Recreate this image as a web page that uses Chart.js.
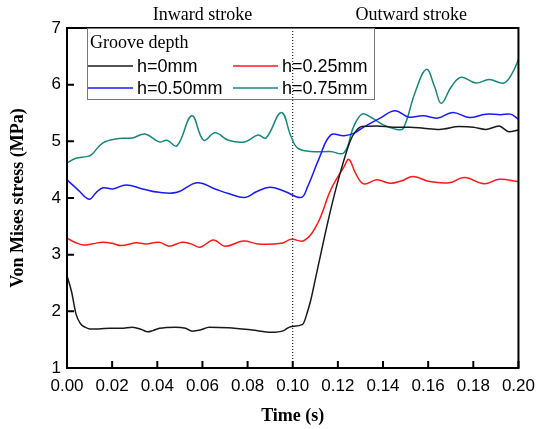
<!DOCTYPE html>
<html>
<head>
<meta charset="utf-8">
<script src="https://cdn.jsdelivr.net/npm/chart.js@4/dist/chart.umd.min.js"></script>
<style>
  html, body { margin: 0; padding: 0; background: #fff; }
  #wrap { width: 543px; height: 429px; }
</style>
</head>
<body>
<div id="wrap"><canvas id="chart" width="543" height="429"></canvas></div>
<script>
// Series: time (s) and von Mises stress (MPa)
const t0 = [0, 0.002, 0.004, 0.006, 0.008, 0.010, 0.014, 0.019, 0.024, 0.029, 0.033, 0.0357, 0.038, 0.041, 0.048, 0.0525, 0.0555, 0.059, 0.063, 0.0715, 0.082, 0.0905, 0.096, 0.099, 0.1044, 0.1066, 0.108, 0.111, 0.1161, 0.1197, 0.1256, 0.128, 0.1307, 0.1373, 0.1446, 0.152, 0.158, 0.165, 0.1738, 0.18, 0.1855, 0.1914, 0.1958, 0.2];
const v0 = [2.63, 2.35, 1.95, 1.78, 1.72, 1.69, 1.69, 1.70, 1.70, 1.72, 1.68, 1.64, 1.66, 1.70, 1.72, 1.70, 1.65, 1.67, 1.72, 1.71, 1.67, 1.63, 1.66, 1.73, 1.77, 2.0, 2.2, 2.75, 3.67, 4.25, 5.02, 5.18, 5.26, 5.27, 5.25, 5.25, 5.23, 5.21, 5.26, 5.25, 5.21, 5.27, 5.17, 5.20];

const t25 = [0, 0.0035, 0.0072, 0.011, 0.016, 0.020, 0.024, 0.0306, 0.035, 0.0408, 0.0452, 0.051, 0.055, 0.059, 0.0649, 0.07, 0.0781, 0.0846, 0.0949, 0.0993, 0.1051, 0.111, 0.1168, 0.1227, 0.1249, 0.1278, 0.1314, 0.1373, 0.1431, 0.148, 0.1534, 0.1607, 0.1694, 0.176, 0.1848, 0.1914, 0.2];
const v25 = [3.29, 3.22, 3.17, 3.19, 3.22, 3.20, 3.16, 3.21, 3.19, 3.22, 3.15, 3.22, 3.19, 3.13, 3.26, 3.15, 3.24, 3.19, 3.20, 3.27, 3.25, 3.55, 4.14, 4.55, 4.68, 4.44, 4.25, 4.32, 4.26, 4.30, 4.38, 4.29, 4.27, 4.36, 4.25, 4.33, 4.29];

const t50 = [0, 0.005, 0.0098, 0.013, 0.016, 0.0203, 0.0262, 0.0335, 0.0408, 0.0488, 0.0576, 0.0656, 0.0715, 0.0788, 0.0839, 0.0898, 0.0963, 0.1037, 0.1066, 0.1117, 0.1168, 0.1227, 0.127, 0.1314, 0.1387, 0.1453, 0.1512, 0.1578, 0.1643, 0.1709, 0.1782, 0.1855, 0.1921, 0.1965, 0.2];
const v50 = [4.32, 4.14, 3.98, 4.10, 4.18, 4.16, 4.23, 4.16, 4.10, 4.10, 4.27, 4.16, 4.08, 4.01, 4.11, 4.19, 4.12, 4.01, 4.20, 4.70, 5.11, 5.10, 5.14, 5.25, 5.41, 5.54, 5.43, 5.45, 5.41, 5.51, 5.42, 5.48, 5.47, 5.48, 5.39];

const t75 = [0, 0.004, 0.0086, 0.0108, 0.0158, 0.023, 0.029, 0.0346, 0.0408, 0.0443, 0.0487, 0.0553, 0.0605, 0.0656, 0.0715, 0.0788, 0.0846, 0.0882, 0.0949, 0.0993, 0.1022, 0.108, 0.1167, 0.1227, 0.127, 0.1307, 0.1344, 0.1402, 0.146, 0.149, 0.1541, 0.1592, 0.1629, 0.1658, 0.1702, 0.1746, 0.1811, 0.187, 0.1936, 0.1972, 0.2];
const v75 = [4.62, 4.70, 4.73, 4.76, 4.97, 5.05, 5.06, 5.13, 4.99, 5.02, 4.92, 5.45, 5.02, 5.15, 5.02, 4.99, 5.11, 5.06, 5.51, 5.08, 4.88, 4.82, 4.82, 4.80, 5.26, 5.48, 5.43, 5.29, 5.21, 5.23, 5.85, 6.27, 5.96, 5.67, 5.96, 6.13, 6.03, 6.09, 6.03, 6.20, 6.44];

const seriesLabels = ['h=0mm', 'h=0.25mm', 'h=0.50mm', 'h=0.75mm'];
const seriesColors = ['#1a1a1a', '#ff1a1a', '#1a1aff', '#17877d'];
const legendTitle = 'Groove depth';
const strokeLabels = ['Inward stroke', 'Outward stroke'];
const strokeLabelTimes = [0.06, 0.1525];
const dividerTime = 0.1;

function pts(t, v) { return t.map((x, i) => ({ x: x, y: v[i] })); }

const lines = [[t0, v0], [t25, v25], [t50, v50], [t75, v75]];
const datasets = lines.map((s, i) => ({
  label: seriesLabels[i],
  data: pts(s[0], s[1]),
  borderColor: seriesColors[i],
  borderWidth: 1.5,
  pointRadius: 0,
  // black has sharp corners, keep it monotone; the rest are wavy
  cubicInterpolationMode: i === 0 ? 'monotone' : 'default',
  tension: 0.4,
  fill: false
}));
// dotted divider between the two strokes
datasets.push({
  label: 'divider',
  data: [{ x: dividerTime, y: 1 }, { x: dividerTime, y: 7 }],
  borderColor: '#000',
  borderWidth: 1,
  borderDash: [1, 2],
  pointRadius: 0,
  tension: 0,
  fill: false
});

// frame, inward ticks, stroke labels and the boxed legend
const extras = {
  id: 'extras',
  afterDraw(chart) {
    const ctx = chart.ctx, a = chart.chartArea;
    const xs = chart.scales.x, ys = chart.scales.y;
    ctx.save();
    ctx.strokeStyle = '#000';
    ctx.lineWidth = 2;
    ctx.strokeRect(a.left, a.top, a.right - a.left, a.bottom - a.top);
    ctx.beginPath();
    xs.ticks.forEach(tk => {
      const px = xs.getPixelForValue(tk.value);
      ctx.moveTo(px, a.bottom); ctx.lineTo(px, a.bottom - 7);
    });
    ys.ticks.forEach(tk => {
      const py = ys.getPixelForValue(tk.value);
      ctx.moveTo(a.left, py); ctx.lineTo(a.left + 7, py);
    });
    ctx.stroke();

    ctx.fillStyle = '#000';
    ctx.font = '18px "Liberation Serif"';
    ctx.textAlign = 'center';
    ctx.textBaseline = 'middle';
    strokeLabels.forEach((s, i) => ctx.fillText(s, xs.getPixelForValue(strokeLabelTimes[i]), 15));

    // legend
    ctx.strokeStyle = '#777';
    ctx.lineWidth = 1;
    ctx.strokeRect(87.5, 28.5, 287, 71);
    ctx.textAlign = 'left';
    ctx.font = '18px "Liberation Serif"';
    ctx.fillText(legendTitle, 90, 43);
    ctx.font = '18px "Liberation Sans"';
    const colX = [88, 233], rowY = [66, 88];
    seriesLabels.forEach((lab, i) => {
      const cx = colX[i % 2], cy = rowY[Math.floor(i / 2)];
      ctx.strokeStyle = seriesColors[i];
      ctx.lineWidth = 1.5;
      ctx.beginPath(); ctx.moveTo(cx, cy); ctx.lineTo(cx + 45, cy); ctx.stroke();
      ctx.fillText(lab, cx + 49, cy + 1);
    });
    ctx.restore();
  }
};

new Chart(document.getElementById('chart'), {
  type: 'line',
  data: { datasets: datasets },
  options: {
    responsive: false,
    animation: false,
    layout: { padding: { left: 0, right: 20, top: 28, bottom: 0 } },
    plugins: { legend: { display: false }, tooltip: { enabled: false } },
    scales: {
      x: {
        type: 'linear', min: 0, max: 0.2,
        grid: { display: false, drawTicks: false },
        border: { display: true, color: '#000', width: 2 },
        ticks: {
          stepSize: 0.02, padding: 8, color: '#000', maxRotation: 0,
          font: { family: 'Liberation Sans', size: 17 },
          callback: v => v.toFixed(2)
        },
        title: {
          display: true, text: 'Time (s)', color: '#000', padding: { top: 0, bottom: 2 },
          font: { family: 'Liberation Serif', size: 18, weight: 'bold' }
        },
        afterFit: s => { s.height = 61; }
      },
      y: {
        min: 1, max: 7,
        grid: { display: false, drawTicks: false },
        border: { display: true, color: '#000', width: 2 },
        ticks: {
          stepSize: 1, padding: 6, color: '#000',
          font: { family: 'Liberation Sans', size: 17 }
        },
        title: {
          display: true, text: 'Von Mises stress (MPa)', color: '#000', padding: { top: 8, bottom: 0 },
          font: { family: 'Liberation Serif', size: 18, weight: 'bold' }
        },
        afterFit: s => { s.width = 67; }
      }
    }
  },
  plugins: [extras]
});
</script>
</body>
</html>
